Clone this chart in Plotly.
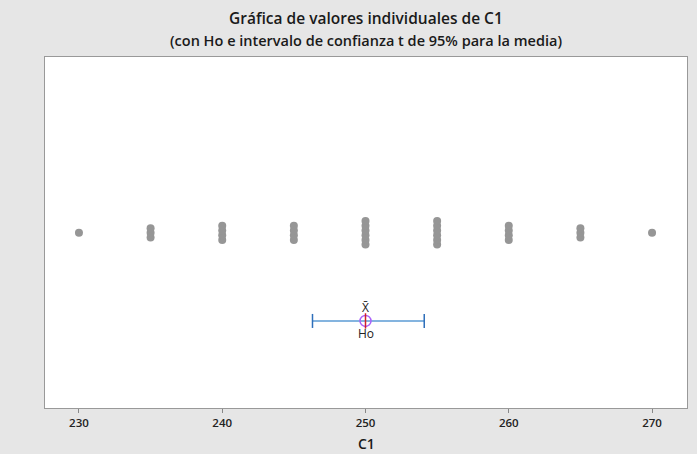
import plotly.graph_objects as go

# Data
values = [230, 235, 240, 245, 250, 255, 260, 265, 270]
counts = [1, 3, 4, 4, 6, 6, 4, 3, 1]
mean_value = 250.0
ci_lower = 246.3
ci_upper = 254.1
h0_value = 250.0
tick_values = [230, 240, 250, 260, 270]

title_main = "Gráfica de valores individuales de C1"
title_sub = "(con Ho e intervalo de confianza t de 95% para la media)"
x_title = "C1"

FONT = "Open Sans, sans-serif"

# Build stacked dot positions
dot_row = 0.499
ci_row = 0.248
step = 0.0134
xs, ys = [], []
for v, c in zip(values, counts):
    for i in range(c):
        xs.append(v)
        ys.append(dot_row + (i - (c - 1) / 2) * step)

fig = go.Figure()
fig.add_trace(go.Scatter(
    x=xs, y=ys, mode="markers",
    marker=dict(color="#969696", size=8, line=dict(width=0)),
    hoverinfo="x", showlegend=False))

# CI line
fig.add_trace(go.Scatter(
    x=[ci_lower, ci_upper], y=[ci_row, ci_row], mode="lines",
    line=dict(color="#5b9bd5", width=1.5), showlegend=False, hoverinfo="skip"))
# CI end caps
fig.add_trace(go.Scatter(
    x=[ci_lower, ci_upper], y=[ci_row, ci_row], mode="markers",
    marker=dict(symbol="line-ns", size=10, line=dict(color="#2e6fba", width=1.5)),
    showlegend=False, hoverinfo="skip"))
# Ho marker
fig.add_trace(go.Scatter(
    x=[h0_value], y=[ci_row], mode="markers",
    marker=dict(symbol="circle-open", size=11, line=dict(color="#e8202a", width=1.5)),
    showlegend=False, hoverinfo="skip"))
# Mean marker
fig.add_trace(go.Scatter(
    x=[mean_value], y=[ci_row], mode="markers",
    marker=dict(symbol="line-ns", size=11, line=dict(color="#d0202a", width=1.5)),
    showlegend=False, hoverinfo="skip"))

fig.add_annotation(x=mean_value, y=ci_row, text="X̄", showarrow=False,
                   yshift=13, font=dict(family=FONT, size=12, color="#222"))
fig.add_annotation(x=h0_value, y=ci_row, text="Ho", showarrow=False,
                   yshift=-13, font=dict(family=FONT, size=12, color="#222"))

fig.add_annotation(text=title_main, xref="paper", yref="paper", x=0.5, y=1,
                   yshift=39, showarrow=False, xanchor="center", yanchor="middle",
                   font=dict(family=FONT, size=15.5, color="#1a1a1a", weight=600))
fig.add_annotation(text=title_sub, xref="paper", yref="paper", x=0.5, y=1,
                   yshift=17, showarrow=False, xanchor="center", yanchor="middle",
                   font=dict(family=FONT, size=14.5, color="#1a1a1a", weight=600))
fig.add_annotation(text=x_title, xref="paper", yref="paper", x=0.5, y=0,
                   yshift=-35, showarrow=False, xanchor="center", yanchor="middle",
                   font=dict(family=FONT, size=14, color="#1a1a1a", weight=600))

fig.update_layout(
    width=697, height=454,
    margin=dict(l=45, r=10, t=57, b=46, autoexpand=False),
    paper_bgcolor="#e6e6e6", plot_bgcolor="white",
    font=dict(family=FONT, color="#222"),
    xaxis=dict(range=[227.63, 272.44], tickvals=tick_values, automargin=False,
               ticks="outside", ticklen=4, tickcolor="#888", showgrid=False,
               zeroline=False, showline=True, linecolor="#999", mirror=True,
               tickfont=dict(size=11.5, color="#222", weight=600)),
    yaxis=dict(range=[0, 1], showticklabels=False, showgrid=False, zeroline=False,
               automargin=False,
               showline=True, linecolor="#999", mirror=True, ticks=""),
)

fig.write_html("out.html", config={"displayModeBar": False},
               post_script="document.body.style.margin='0';document.body.style.background='#e6e6e6';")
